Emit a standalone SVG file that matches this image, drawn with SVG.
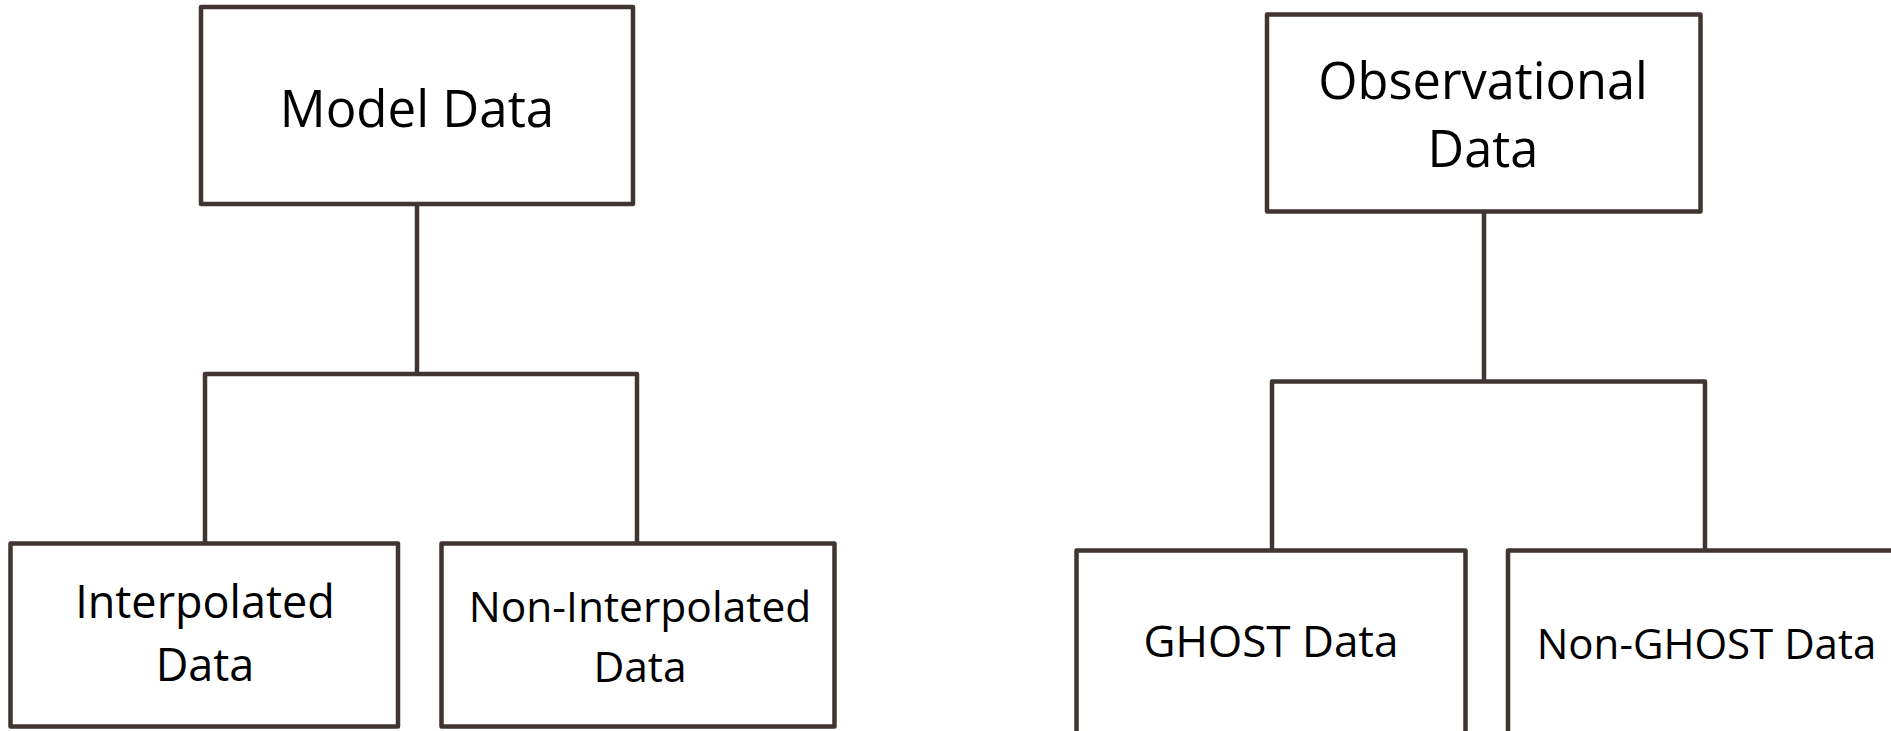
<svg xmlns="http://www.w3.org/2000/svg" width="1891" height="731" viewBox="0 0 1891 731">
<style>
.box{fill:#fff;stroke:#403532;stroke-width:4.5;stroke-linejoin:round}
.ln{fill:none;stroke:#403532;stroke-width:4.5;stroke-linejoin:round}
text{font-family:"Open Sans","Noto Sans",sans-serif;fill:#000;text-anchor:middle}
</style>
<rect width="1891" height="731" fill="#fff"/>
<g id="connectors">
<path class="ln" d="M417 204V374M205 543.5V374H637V543.5"/>
<path class="ln" d="M1484 211.5V381.5M1272 550.5V381.5H1705V550.5"/>
</g>
<g id="model-data">
<rect class="box" x="201" y="7" width="432" height="197"/>
<text x="417" y="127" font-size="51">Model Data</text>
</g>
<g id="interpolated-data">
<rect class="box" x="10.5" y="543.5" width="387.5" height="183"/>
<text x="205" y="618" font-size="45">Interpolated</text>
<text x="205" y="680.5" font-size="45">Data</text>
</g>
<g id="non-interpolated-data">
<rect class="box" x="441.5" y="543.5" width="393" height="183"/>
<text x="640" y="622" font-size="42.5">Non-Interpolated</text>
<text x="640" y="681.5" font-size="42.5">Data</text>
</g>
<g id="observational-data">
<rect class="box" x="1267" y="14.5" width="433.5" height="197"/>
<text x="1483" y="99" font-size="50.5">Observational</text>
<text x="1483" y="166.5" font-size="50.5">Data</text>
</g>
<g id="ghost-data">
<rect class="box" x="1076.5" y="550.5" width="389" height="200"/>
<text x="1271" y="656.5" font-size="44">GHOST Data</text>
</g>
<g id="non-ghost-data">
<rect class="box" x="1508" y="550.5" width="420" height="200"/>
<text x="1706.5" y="659" font-size="42">Non-GHOST Data</text>
</g>
</svg>
